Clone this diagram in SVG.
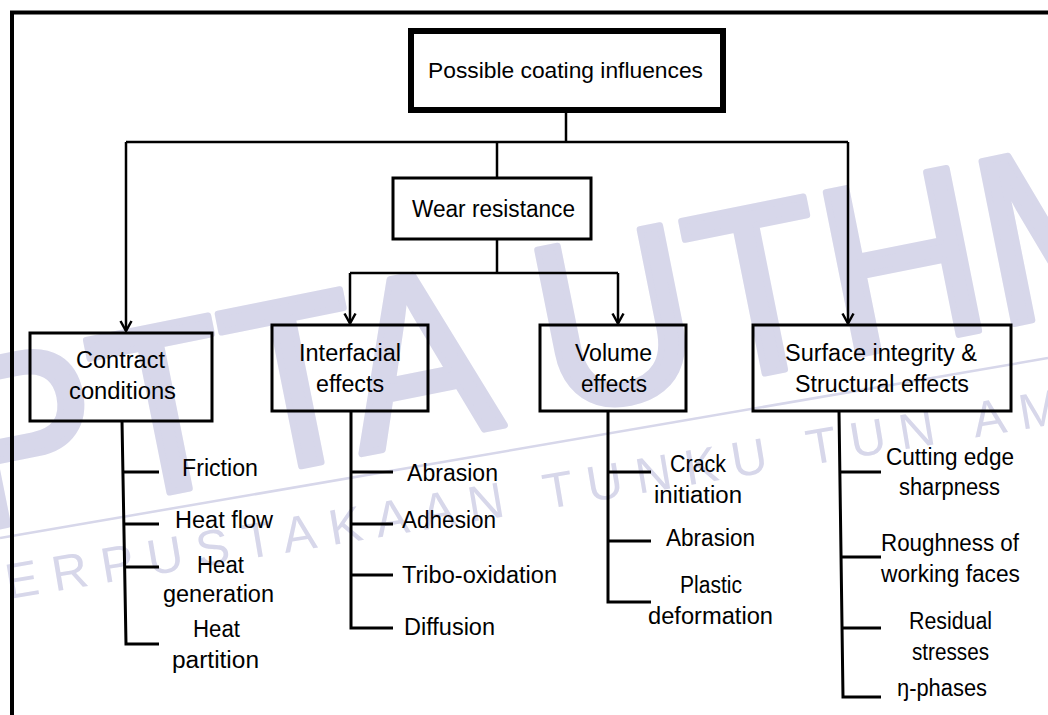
<svg xmlns="http://www.w3.org/2000/svg" width="1048" height="715" viewBox="0 0 1048 715">
  <style>
    .wm { fill: #d7d7ea; font-family: "Liberation Sans", Arial, sans-serif; }
    .wmb { stroke: #d7d7ea; stroke-width: 7; stroke-linejoin: round; }
    .box { fill: none; stroke: #000; stroke-width: 3; }
    .top { fill: none; stroke: #000; stroke-width: 6; }
    .con { fill: none; stroke: #000; stroke-width: 2.5; }
    .br { fill: none; stroke: #000; stroke-width: 3; }
    text.t { font-family: "Liberation Sans", Arial, sans-serif; font-size: 23px; fill: #000; text-anchor: middle; }
    text.h { font-size: 22px; }
  </style>
  <defs>
    <marker id="arr" markerWidth="14" markerHeight="14" refX="0" refY="0" orient="auto" markerUnits="userSpaceOnUse" overflow="visible">
      <path d="M-10,-5.5 L0,0 L-10,5.5" fill="none" stroke="#000" stroke-width="2.5"/>
    </marker>
  </defs>
  <rect width="1048" height="715" fill="#fff"/>

  <g id="watermark">
    <text class="wm wmb" x="-30" y="532" font-size="240" textLength="1230" lengthAdjust="spacingAndGlyphs" transform="rotate(-11.3 -30 532)">PTTA UTHM</text>
    <line x1="0" y1="538" x2="1048" y2="358" stroke="#d7d7ea" stroke-width="2.5"/>
    <text class="wm" x="-38" y="607" font-size="50" textLength="1290" lengthAdjust="spacing" transform="rotate(-9.5 -38 607)">PERPUSTAKAAN TUNKU TUN AMINAH</text>
  </g>

  <path id="frame" d="M12,715 V12.5 H1048" fill="none" stroke="#000" stroke-width="4"/>

  <g id="connectors">
    <path class="con" d="M566,113 V142"/>
    <path class="con" d="M126,142 H848"/>
    <path class="con" d="M126,142 V331" marker-end="url(#arr)"/>
    <path class="con" d="M848,142 V323.5" marker-end="url(#arr)"/>
    <path class="con" d="M497,142 V178"/>
    <path class="con" d="M497,239 V273"/>
    <path class="con" d="M350,273 H618"/>
    <path class="con" d="M350,273 V323.5" marker-end="url(#arr)"/>
    <path class="con" d="M618,273 V323.5" marker-end="url(#arr)"/>
  </g>

  <g id="node-top">
    <rect class="top" x="411" y="31" width="312" height="79"/>
    <text class="t h" x="565.5" y="78" textLength="275" lengthAdjust="spacingAndGlyphs">Possible coating influences</text>
  </g>

  <g id="node-wear">
    <rect class="box" x="393" y="178" width="198" height="61"/>
    <text class="t" x="493.5" y="217" textLength="163" lengthAdjust="spacingAndGlyphs">Wear resistance</text>
  </g>

  <g id="node-contract">
    <rect class="box" x="30" y="333" width="182" height="88"/>
    <text class="t" x="120.5" y="368" textLength="89" lengthAdjust="spacingAndGlyphs">Contract</text>
    <text class="t" x="122.5" y="399" textLength="107" lengthAdjust="spacingAndGlyphs">conditions</text>
  </g>

  <g id="node-interfacial">
    <rect class="box" x="272" y="325" width="156" height="86"/>
    <text class="t" x="350" y="361" textLength="102" lengthAdjust="spacingAndGlyphs">Interfacial</text>
    <text class="t" x="350" y="392" textLength="68" lengthAdjust="spacingAndGlyphs">effects</text>
  </g>

  <g id="node-volume">
    <rect class="box" x="540" y="325" width="146" height="86"/>
    <text class="t" x="613.5" y="361" textLength="77" lengthAdjust="spacingAndGlyphs">Volume</text>
    <text class="t" x="614" y="392" textLength="66" lengthAdjust="spacingAndGlyphs">effects</text>
  </g>

  <g id="node-surface">
    <rect class="box" x="753" y="325" width="258" height="86"/>
    <text class="t" x="881" y="361" textLength="192" lengthAdjust="spacingAndGlyphs">Surface integrity &amp;</text>
    <text class="t" x="882" y="392" textLength="174" lengthAdjust="spacingAndGlyphs">Structural effects</text>
  </g>

  <g id="list-contract">
    <path class="br" d="M122,421 L126,644 H159"/>
    <path class="br" d="M123,472 H159 M123.5,524 H159 M124.5,567 H159"/>
    <text class="t" x="220" y="476" textLength="76" lengthAdjust="spacingAndGlyphs">Friction</text>
    <text class="t" x="224" y="528" textLength="98" lengthAdjust="spacingAndGlyphs">Heat flow</text>
    <text class="t" x="220.5" y="573" textLength="47" lengthAdjust="spacingAndGlyphs">Heat</text>
    <text class="t" x="218.5" y="602" textLength="111" lengthAdjust="spacingAndGlyphs">generation</text>
    <text class="t" x="216.5" y="637" textLength="47" lengthAdjust="spacingAndGlyphs">Heat</text>
    <text class="t" x="215.5" y="668" textLength="87" lengthAdjust="spacingAndGlyphs">partition</text>
  </g>

  <g id="list-interfacial">
    <path class="br" d="M351,411 V628 H393"/>
    <path class="br" d="M351,472 H393 M351,524 H393 M351,575 H393"/>
    <text class="t" x="452.5" y="481" textLength="91" lengthAdjust="spacingAndGlyphs">Abrasion</text>
    <text class="t" x="449" y="528" textLength="94" lengthAdjust="spacingAndGlyphs">Adhesion</text>
    <text class="t" x="479.5" y="583" textLength="155" lengthAdjust="spacingAndGlyphs">Tribo-oxidation</text>
    <text class="t" x="449.5" y="635" textLength="91" lengthAdjust="spacingAndGlyphs">Diffusion</text>
  </g>

  <g id="list-volume">
    <path class="br" d="M608,411 V602 H651"/>
    <path class="br" d="M608,472 H651 M608,541 H651"/>
    <text class="t" x="698" y="472" textLength="56" lengthAdjust="spacingAndGlyphs">Crack</text>
    <text class="t" x="698" y="503" textLength="88" lengthAdjust="spacingAndGlyphs">initiation</text>
    <text class="t" x="710.5" y="546" textLength="89" lengthAdjust="spacingAndGlyphs">Abrasion</text>
    <text class="t" x="711" y="593" textLength="62" lengthAdjust="spacingAndGlyphs">Plastic</text>
    <text class="t" x="710.5" y="624" textLength="125" lengthAdjust="spacingAndGlyphs">deformation</text>
  </g>

  <g id="list-surface">
    <path class="br" d="M839,411 L843,697 H881"/>
    <path class="br" d="M840,472 H881 M841,557 H881 M842,628 H881"/>
    <text class="t" x="950" y="465" textLength="128" lengthAdjust="spacingAndGlyphs">Cutting edge</text>
    <text class="t" x="949.5" y="495" textLength="101" lengthAdjust="spacingAndGlyphs">sharpness</text>
    <text class="t" x="950" y="551" textLength="138" lengthAdjust="spacingAndGlyphs">Roughness of</text>
    <text class="t" x="950.5" y="582" textLength="139" lengthAdjust="spacingAndGlyphs">working faces</text>
    <text class="t" x="950.5" y="629" textLength="83" lengthAdjust="spacingAndGlyphs">Residual</text>
    <text class="t" x="950.5" y="660" textLength="77" lengthAdjust="spacingAndGlyphs">stresses</text>
    <text class="t" x="942" y="696" textLength="90" lengthAdjust="spacingAndGlyphs">ŋ-phases</text>
  </g>
</svg>
